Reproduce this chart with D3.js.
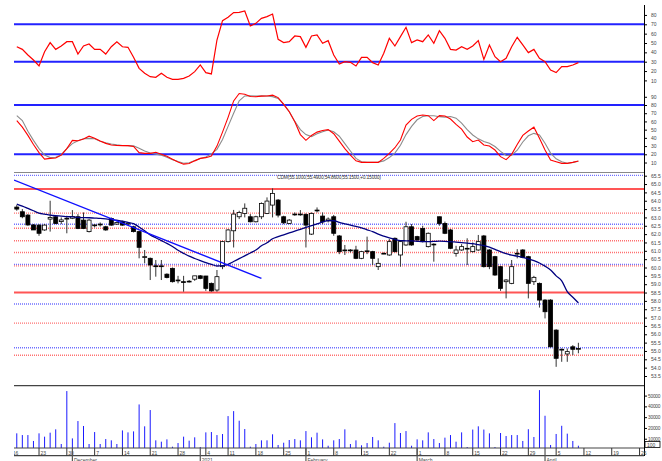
<!DOCTYPE html>
<html>
<head>
<meta charset="utf-8">
<title>Chart</title>
<style>
  body{margin:0;background:#fff;}
  svg text{font-family:"Liberation Sans",Arial,sans-serif;font-size:5px;fill:#444;}
</style>
<script src="https://d3js.org/d3.v7.min.js"></script>
</head>
<body>
<script>
// ---- data, one entry per trading day from 17 Nov 2020
var opens =[63.62,63.34,63.14,62.55,62.54,62.25,62.9,63.04,62.75,62.9,62.95,63.04,62.84,62.15,62.5,62.55,62.44,62.94,62.6,62.74,62.6,62.44,62.15,60.6,60.55,60.1,60.05,59.6,59.95,59.2,59.15,59.15,59.3,59.5,59.49,59.05,58.65,60.05,61.55,62.2,63.04,63.24,63.04,62.74,63.04,63.24,63.74,64.04,63.04,62.64,63.18,63.18,63.18,62.0,63.44,63.08,62.8,
             63.04,61.89,61.05,61.0,61.05,60.55,60.95,60.95,60.05,60.85,60.75,61.75,60.75,61.35,62.44,61.85,62.34,61.25,61.4,63.04,62.64,62.25,60.85,61.05,61.15,60.95,61.05,61.89,61.05,60.65,60.05,59.15,59.05,60.85,61.05,60.65,59.15,59.05,58.05,58.05,56.25,55.05,54.82,55.25,55.10];
var highs =[63.75,63.5,63.2,62.6,62.6,62.6,64.0,63.1,63.0,63.1,63.44,63.2,63.3,62.9,62.6,62.7,62.5,63.0,62.75,62.8,62.7,62.5,62.2,61.05,60.6,60.45,60.45,59.65,60.0,59.5,59.5,59.25,59.5,59.55,59.5,59.1,59.85,61.6,62.3,63.45,63.4,63.84,63.2,63.1,63.9,64.2,64.74,64.1,63.1,62.9,63.3,63.44,63.25,63.3,63.6,63.3,63.0,
             63.15,61.95,61.35,61.1,61.3,61.0,61.85,61.0,60.55,60.9,61.7,61.8,61.6,62.74,62.6,61.9,62.5,62.1,61.45,63.05,62.75,62.3,61.3,61.4,61.75,61.5,61.95,61.95,61.1,60.7,60.1,59.3,60.45,61.1,61.1,60.7,59.5,59.1,58.1,58.1,56.3,55.15,55.15,55.35,55.49];
var lows  =[63.4,62.95,62.5,62.25,61.9,62.2,62.15,62.6,62.6,62.05,62.9,62.3,62.3,62.1,62.4,62.45,62.2,62.5,62.55,62.5,62.55,62.1,60.55,60.25,59.25,59.45,59.25,59.35,59.1,59.05,58.55,59.1,59.2,59.3,58.6,58.55,58.55,59.9,61.5,61.2,62.9,63.0,62.7,62.7,62.9,63.2,63.0,63.0,62.6,62.6,63.1,63.1,61.2,61.95,63.3,62.6,62.7,
             61.9,60.8,60.75,60.9,60.5,60.5,60.8,60.15,59.85,60.8,60.7,60.9,60.05,61.3,61.3,61.6,61.5,61.2,60.35,62.5,62.0,61.1,60.65,61.0,60.15,60.9,61.0,60.0,59.9,59.5,58.6,58.15,59.0,60.55,60.55,58.15,58.95,57.6,56.95,55.2,54.05,54.35,54.35,54.75,54.86];
var closes=[63.5,63.04,62.55,62.25,62.05,62.54,63.0,62.64,62.85,62.95,63.05,62.34,62.34,62.84,62.55,62.6,62.25,62.54,62.7,62.54,62.66,62.15,61.21,60.65,60.15,60.05,60.1,59.4,59.15,59.25,59.1,59.18,59.5,59.35,58.75,58.6,59.45,61.55,62.25,63.2,63.3,63.55,62.74,63.04,63.84,63.98,64.44,63.14,62.68,62.84,63.2,63.2,62.54,63.24,63.4,62.74,62.9,
             62.05,60.95,61.0,61.05,60.55,60.95,61.0,60.55,60.25,60.85,61.55,60.95,61.55,62.44,61.35,61.65,61.55,62.05,61.4,62.64,62.05,61.15,61.05,61.25,61.15,61.25,61.55,60.05,60.05,59.55,58.75,59.25,60.05,60.85,60.6,59.05,59.41,58.05,57.35,55.25,54.56,55.1,54.96,55.1,55.15];
var volumes=[15000,13400,13400,7900,15000,11900,15600,18700,5100,54200,10300,26400,21800,5100,16200,5100,9700,8500,5100,17700,15900,16800,41800,21500,36600,8500,7250,9400,2600,6000,11900,8200,11300,2300,15900,16200,13400,14350,31000,35600,26700,19000,2600,5100,8500,8500,14100,4200,6300,8800,9700,8500,17100,11300,15600,9400,3500,
             8500,9700,18700,5100,8500,3900,6000,11600,8500,2600,6300,24500,15300,17100,3500,9400,8500,15900,9700,6000,11000,13400,7250,15900,2300,18500,21500,18500,15000,2300,15300,12500,13400,13400,7900,18800,11600,55100,31300,4200,14400,22000,14700,7900,3500];
var movingAvg=[63.8,63.68,63.54,63.4,63.26,63.2,63.14,63.1,63.08,63.05,63.03,63.0,62.99,62.98,62.96,62.94,62.91,62.87,62.83,62.78,62.7,62.63,62.43,62.2,61.95,61.78,61.61,61.45,61.26,61.03,60.85,60.68,60.54,60.41,60.29,60.19,60.09,60.11,60.19,60.36,60.53,60.7,60.87,61.05,61.3,61.48,61.72,61.85,61.96,62.07,62.18,62.29,62.4,62.51,62.61,62.73,62.81,
               62.8,62.7,62.62,62.54,62.46,62.38,62.26,62.15,62.0,61.88,61.77,61.68,61.61,61.6,61.59,61.57,61.55,61.55,61.56,61.58,61.57,61.55,61.52,61.49,61.46,61.43,61.37,61.31,61.22,61.09,60.95,60.83,60.74,60.68,60.61,60.52,60.41,60.27,60.08,59.85,59.5,59.2,58.55,58.22,57.88];
var rsi=[46,43.2,37.2,31.8,25.4,40.7,50.4,43.2,46.8,51.4,51.4,38.2,46.8,48.9,43.2,43.2,38.2,46,51.4,46,45.4,34.7,22.9,17.6,14,13.3,17.6,13.3,11.2,11.2,12.2,14.7,19.4,26.5,18.3,16.9,53.2,73.9,77.5,82.5,82.8,84.2,68.2,71,76.4,78.2,81,53.9,50.4,51.4,57.5,56.8,45.4,57.5,58.6,49.7,52.5,
         37.2,27.6,30,29.3,25.4,34.7,34.7,29,26.5,39,55,46.8,56.8,66.8,50.4,53.2,51.4,58.6,49.7,63.2,55,43.2,42.5,46,43.2,46.8,52.5,32.5,47.9,35.4,30,33.6,46,56.1,47.9,39.7,43.2,33.6,30,21.1,18.3,24.7,24.7,26.5,29];
var stochK=[61,53,43,32,22,14.2,15,15.5,19,27,37,36.5,38.6,42,39.4,36.1,33.3,31.3,30.8,30.5,30.5,29.5,22,21.1,21.1,22.5,20,17.5,14,10.5,8,8.8,12,15,15.9,18,30,47,65,85,94,93,90.3,90.1,90.8,90.9,92,89,80.8,71.8,59.7,44,37,43,47,49,50,
            45,36,27,19,12,10.2,10.2,10.2,10.2,15,21.1,28,37.4,55.6,62.5,66.6,67.8,67,61,67,66.6,62.9,56.4,50.7,41,35.3,37.4,31.3,30.1,25.2,17.1,13.5,20,32,43,48.3,53,39.4,25.2,13,11,9,9,10.2,11.8];
var stochD=[67,61,48,37,27,19,16,16.5,19.5,27,33,36.5,39,39.4,39,36,34,32.5,31.5,30.8,30.5,30.2,27.5,24,21.5,20,19,16.5,13.5,11.2,9.2,9.8,12.5,14.8,16.8,20.5,26,38,54,70,85,91,91.3,91,91.2,91,90.2,88,81,72,60,50,44,41.5,45,47.5,49.5,
            47.5,42,33,24,15,11,10.2,10.2,10.5,12,16,21.5,31,44,54,62,66,67,67,65.8,65.3,66,64,58,50,43.5,38.8,35.5,33.5,29.5,23.5,18.5,19,25,35,42.5,45.5,43.5,33.5,21.5,14.5,11,9.2,10.2,11.5];

var trendLine=[{day:0.5,price:65.24},{day:45,price:59.35}];   // day index counted from 16 Nov
var fibSolid=[64.7,58.5];
var fibDotted=[63.26,62.35,61.6,60.9,60.1,56.67,54.74];
var blueLevels=[65.52,62.59,60.19,57.81,55.19];
var rsiLevels=[70,30], stochLevels=[80,20];
var rsiTicks=[10,20,30,40,50,60,70,80];
var stochTicks=[10,20,30,40,50,60,70,80,90];
var priceTicks=d3.range(53.5,65.51,0.5);
var volTicks=[10000,20000,30000,40000,50000];
var missingDays=["2021-01-08","2021-01-29"];
var monthNames=["2021","February","March","April","May","June","July","August","September","October","November","December"];
var infoText="CDM(55.1000,55.4900,54.8600,55.1500,+0.15000)";

// ---- trading days
var fmt=d3.timeFormat("%Y-%m-%d");
var days=d3.timeDay.range(new Date(2020,10,16),new Date(2021,4,1))
  .filter(function(d){return d.getDay()>0&&d.getDay()<6&&missingDays.indexOf(fmt(d))<0;});

var width=662,height=461,L=14,R=644;
var svg=d3.select("body").append("svg").attr("width",width).attr("height",height);

var x=d3.scaleLinear().domain([0.5,113.8]).range([L,R]);
var yRsi=d3.scaleLinear().domain([30,70]).range([61.7,24.3]);
var ySto=d3.scaleLinear().domain([20,80]).range([154.3,105]);
var yPx=d3.scaleLinear().domain([53.5,65.5]).range([376,175.7]);
var yVol=d3.scaleLinear().domain([0,50000]).range([449.5,395.6]);

var panels=[{id:"cRsi",y0:4,y1:89},{id:"cSto",y0:89,y1:172.5},{id:"cPx",y0:172.5,y1:385.7},{id:"cVol",y0:385.7,y1:448}];
var defs=svg.append("defs");
panels.forEach(function(p){
  defs.append("clipPath").attr("id",p.id).append("rect")
    .attr("x",L).attr("y",p.y0).attr("width",R-L).attr("height",p.y1-p.y0);
});
function dayX(i){return x(i+1);}

// ---- RSI panel
var gR=svg.append("g").attr("clip-path","url(#cRsi)");
gR.selectAll(".lvl").data(rsiLevels).enter().append("line")
  .attr("x1",L).attr("x2",R).attr("y1",function(d){return yRsi(d);}).attr("y2",function(d){return yRsi(d);})
  .attr("stroke","#2222ff").attr("stroke-width",2);
gR.append("path").datum(rsi)
  .attr("d",d3.line().x(function(d,i){return dayX(i);}).y(function(d){return yRsi(d);}))
  .attr("fill","none").attr("stroke","#ff0000").attr("stroke-width",1.2);

// ---- Stochastic panel
var gS=svg.append("g").attr("clip-path","url(#cSto)");
gS.selectAll(".lvl").data(stochLevels).enter().append("line")
  .attr("x1",L).attr("x2",R).attr("y1",function(d){return ySto(d);}).attr("y2",function(d){return ySto(d);})
  .attr("stroke","#2222ff").attr("stroke-width",2);
var stoLine=d3.line().x(function(d,i){return dayX(i);}).y(function(d){return ySto(d);});
gS.append("path").datum(stochD).attr("d",stoLine).attr("fill","none").attr("stroke","#8c8c8c").attr("stroke-width",1.1);
gS.append("path").datum(stochK).attr("d",stoLine).attr("fill","none").attr("stroke","#ff0000").attr("stroke-width",1.1);

// ---- Price panel
var gP=svg.append("g").attr("clip-path","url(#cPx)");
gP.selectAll(".fd").data(fibDotted).enter().append("line")
  .attr("x1",L).attr("x2",R).attr("y1",function(d){return yPx(d);}).attr("y2",function(d){return yPx(d);})
  .attr("stroke","#ff7070").attr("stroke-width",1.4).attr("stroke-dasharray","1,1");
gP.selectAll(".bl").data(blueLevels).enter().append("line")
  .attr("x1",L).attr("x2",R).attr("y1",function(d){return yPx(d);}).attr("y2",function(d){return yPx(d);})
  .attr("stroke","#7070ff").attr("stroke-width",1.4).attr("stroke-dasharray","1,1");
gP.selectAll(".fs").data(fibSolid).enter().append("line")
  .attr("x1",L).attr("x2",R).attr("y1",function(d){return yPx(d);}).attr("y2",function(d){return yPx(d);})
  .attr("stroke","#ff5555").attr("stroke-width",2);

var candles=opens.map(function(o,i){return {i:i,o:o,h:highs[i],l:lows[i],c:closes[i]};});
gP.selectAll(".wick").data(candles).enter().append("line")
  .attr("x1",function(d){return dayX(d.i);}).attr("x2",function(d){return dayX(d.i);})
  .attr("y1",function(d){return yPx(d.h);}).attr("y2",function(d){return yPx(d.l);})
  .attr("stroke","#333").attr("stroke-width",1);
gP.selectAll(".body").data(candles).enter().append("rect")
  .attr("x",function(d){return dayX(d.i)-2;}).attr("width",4)
  .attr("y",function(d){return yPx(Math.max(d.o,d.c));})
  .attr("height",function(d){return Math.max(0.8,Math.abs(yPx(d.o)-yPx(d.c)));})
  .attr("fill",function(d){return d.c<d.o?"#000":"#fff";})
  .attr("stroke","#000").attr("stroke-width",0.8);

gP.append("path").datum(movingAvg)
  .attr("d",d3.line().x(function(d,i){return dayX(i);}).y(function(d){return yPx(d);}).curve(d3.curveMonotoneX))
  .attr("fill","none").attr("stroke","#000080").attr("stroke-width",1.3);
gP.append("line")
  .attr("x1",x(trendLine[0].day)).attr("y1",yPx(trendLine[0].price))
  .attr("x2",x(trendLine[1].day)).attr("y2",yPx(trendLine[1].price))
  .attr("stroke","#1010ff").attr("stroke-width",1.4);
svg.append("text").attr("x",277).attr("y",178.6).attr("textLength",104).text(infoText).style("fill","#333");

// ---- Volume panel
var gV=svg.append("g").attr("clip-path","url(#cVol)");
gV.selectAll(".vol").data(volumes).enter().append("line")
  .attr("x1",function(d,i){return dayX(i);}).attr("x2",function(d,i){return dayX(i);})
  .attr("y1",function(d){return yVol(d);}).attr("y2",yVol(0))
  .attr("stroke","#1a1aff").attr("stroke-width",1);

// ---- frame lines
[172.5,385.7,448,455.7].forEach(function(yy,k){
  svg.append("line").attr("x1",L).attr("x2",R).attr("y1",yy).attr("y2",yy)
    .attr("stroke",k==0?"#888":"#444").attr("stroke-width",k==0?1:1.2);
});

// ---- right axes
function rightAxis(scale,major,minor,format,pad,size){
  var g=svg.append("g").attr("transform","translate("+R+",0)");
  g.call(d3.axisRight(scale).tickValues(minor).tickSize(2).tickFormat(""));
  g.call(d3.axisRight(scale).tickValues(major).tickSize(3).tickPadding(pad).tickFormat(format));
  g.selectAll(".domain").remove();
  g.selectAll("text").attr("font-size",null).attr("font-family",null).attr("fill",null).style("font-size",size+"px");
  g.selectAll("line").attr("stroke","#000");
  return g;
}
rightAxis(yRsi,rsiTicks,d3.range(5,90,5),d3.format("d"),4,5);
rightAxis(ySto,stochTicks,d3.range(5,96,5),d3.format("d"),4,5);
rightAxis(yPx,priceTicks,d3.range(53.25,65.8,0.25),d3.format(".1f"),4,5);
rightAxis(yVol,volTicks,d3.range(5000,55001,5000),d3.format("d"),1,4.8)
  .selectAll("text").attr("textLength",12.5);
svg.append("line").attr("x1",R+0.5).attr("x2",R+0.5).attr("y1",5).attr("y2",456).attr("stroke","#000");
svg.append("rect").attr("x",R+1).attr("y",441.5).attr("width",15).attr("height",6).attr("fill","#fff").attr("stroke","#000").attr("stroke-width",0.8);
svg.append("text").attr("x",R+3).attr("y",446.5).text("100");

// ---- date axis
var weekTicks=days.map(function(d,i){return {d:d,i:i};}).filter(function(o){
  return o.i==0||o.d.getDay()<days[o.i-1].getDay();});
var monthTicks=days.map(function(d,i){return {d:d,i:i};}).filter(function(o){
  return o.i>0&&o.d.getMonth()!=days[o.i-1].getMonth();});
var gX=svg.append("g");
gX.selectAll(".wt").data(weekTicks).enter().append("line")
  .attr("x1",function(o){return x(o.i);}).attr("x2",function(o){return x(o.i);})
  .attr("y1",448).attr("y2",455.7).attr("stroke","#333");
gX.selectAll(".wl").data(weekTicks.filter(function(o){return x(o.i)<R;})).enter().append("text")
  .attr("x",function(o){return x(o.i)+1.5;}).attr("y",454.5).text(function(o){return o.d.getDate();});
gX.selectAll(".mt").data(monthTicks).enter().append("line")
  .attr("x1",function(o){return x(o.i);}).attr("x2",function(o){return x(o.i);})
  .attr("y1",448).attr("y2",461).attr("stroke","#555").attr("stroke-width",1.2);
gX.selectAll(".ml").data(monthTicks).enter().append("text")
  .attr("x",function(o){return x(o.i)+1.5;}).attr("y",461.5)
  .text(function(o){return monthNames[o.d.getMonth()];});
// mask the left gutter so the first week label is clipped like the original
svg.append("rect").attr("x",0).attr("y",446).attr("width",L).attr("height",15).attr("fill","#fff");
</script>
</body>
</html>
